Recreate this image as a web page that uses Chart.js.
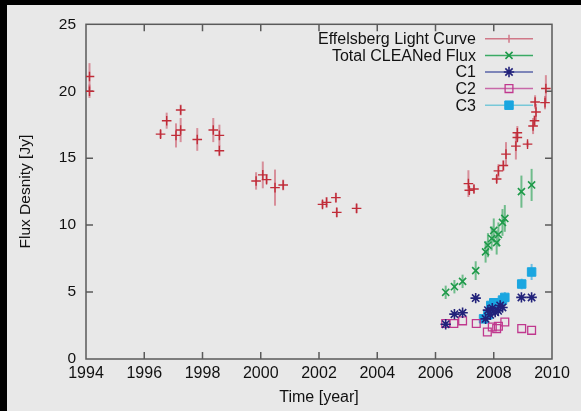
<!DOCTYPE html>
<html>
<head>
<meta charset="utf-8">
<script src="https://cdn.jsdelivr.net/npm/chart.js@4/dist/chart.umd.min.js"></script>
<style>
    html, body { margin: 0; padding: 0; background: #000; }
    #wrap { position: absolute; left: 7px; top: 5px; width: 574px; height: 406px; background: #e8e8e8; }
</style>
</head>
<body>
<div id="wrap"><canvas id="flux" width="574" height="406"></canvas></div>
<script>
// Effelsberg light curve
const effYears = [1994.12, 1994.12, 1996.56, 1996.77, 1997.09, 1997.25, 1997.25, 1997.82, 1998.37, 1998.58, 1998.58,
    1999.84, 2000.07, 2000.2, 2000.49, 2000.77, 2002.12, 2002.26, 2002.58, 2002.61, 2003.29,
    2007.13, 2007.16, 2007.32, 2008.1, 2008.16, 2008.33, 2008.42, 2008.76, 2008.81, 2008.81,
    2009.16, 2009.35, 2009.4, 2009.45, 2009.42, 2009.76, 2009.79];
const effFlux = [21.1, 20.0, 16.8, 17.8, 16.7, 18.6, 17.1, 16.4, 17.1, 16.7, 15.55,
    13.3, 13.75, 13.4, 12.8, 13.0, 11.55, 11.7, 12.05, 10.95, 11.25,
    13.1, 12.6, 12.7, 13.45, 14.05, 14.45, 15.3, 15.9, 16.9, 16.55,
    16.05, 17.4, 17.8, 18.45, 19.2, 19.15, 20.2];
const effErr = [1.0, 0.5, 0.3, 0.6, 0.9, 0.4, 0.9, 0.85, 0.9, 0.8, 0.4,
    0.65, 1.0, 0.3, 1.35, 0.4, 0.3, 0.4, 0.35, 0.35, 0.35,
    1.0, 0.3, 0.3, 0.3, 0.5, 0.4, 0.9, 1.0, 0.5, 0.3,
    0.2, 0.6, 0.4, 0.6, 0.5, 0.5, 1.0];

// Total CLEANed flux
const totYears = [2006.35, 2006.65, 2006.93, 2007.38, 2007.72, 2007.8, 2007.93, 2008.0, 2008.1, 2008.16, 2008.3, 2008.38, 2008.95, 2009.3];
const totFlux = [4.98, 5.4, 5.8, 6.6, 8.0, 8.5, 9.0, 9.6, 8.7, 9.3, 10.2, 10.5, 12.5, 13.0];
const totErr = [0.5, 0.5, 0.5, 0.7, 0.8, 0.9, 0.9, 0.9, 0.9, 0.9, 1.0, 1.0, 1.2, 1.2];

// components
const c1Years = [2006.35, 2006.65, 2006.93, 2007.38, 2007.72, 2007.8, 2007.88, 2007.95, 2008.05, 2008.15, 2008.22, 2008.3, 2008.95, 2009.3];
const c1Flux = [2.6, 3.35, 3.45, 4.55, 3.0, 3.65, 3.3, 3.8, 3.5, 3.6, 4.0, 3.85, 4.6, 4.6];

const c2Years = [2006.35, 2006.63, 2006.93, 2007.4, 2007.78, 2007.95, 2008.1, 2008.16, 2008.38, 2008.96, 2009.3];
const c2Flux = [2.65, 2.65, 2.85, 2.65, 2.02, 2.39, 2.27, 2.44, 2.76, 2.27, 2.14];

const c3Years = [2007.65, 2007.8, 2007.9, 2008.0, 2008.3, 2008.38, 2008.96, 2009.3];
const c3Flux = [3.0, 3.3, 4.0, 4.2, 4.4, 4.6, 5.6, 6.5];
const c3Err = [0.3, 0.3, 0.3, 0.3, 0.4, 0.4, 0.4, 0.6];

const xTicks = [1994, 1996, 1998, 2000, 2002, 2004, 2006, 2008, 2010];
const yTicks = [0, 5, 10, 15, 20, 25];

const toPoints = (xs, ys) => xs.map((x, i) => ({ x: x, y: ys[i] }));

const fluxData = {
    datasets: [
        {
            label: 'Effelsberg Light Curve',
            data: toPoints(effYears, effFlux),
            errors: effErr,
            errorColor: 'rgba(200, 70, 90, 0.55)',
            lineColor: '#d07888',
            borderColor: '#c02c38',
            backgroundColor: '#c02c38',
            pointStyle: 'cross',
            pointRadius: 4.8,
            borderWidth: 1.4
        },
        {
            label: 'Total CLEANed Flux',
            data: toPoints(totYears, totFlux),
            errors: totErr,
            errorColor: 'rgba(60, 170, 100, 0.7)',
            lineColor: '#3aaa64',
            borderColor: '#1f9a4a',
            backgroundColor: '#1f9a4a',
            pointStyle: 'crossRot',
            pointRadius: 5,
            borderWidth: 1.6
        },
        {
            label: 'C1',
            data: toPoints(c1Years, c1Flux),
            lineColor: '#5a64a8',
            borderColor: '#22227a',
            backgroundColor: '#22227a',
            pointStyle: 'star',
            pointRadius: 5.2,
            borderWidth: 1.6
        },
        {
            label: 'C2',
            data: toPoints(c2Years, c2Flux),
            lineColor: '#c868a8',
            borderColor: '#c0388e',
            backgroundColor: 'rgba(0,0,0,0)',
            pointStyle: 'rect',
            pointRadius: 5.5,
            borderWidth: 1.3
        },
        {
            label: 'C3',
            data: toPoints(c3Years, c3Flux),
            errors: c3Err,
            errorColor: 'rgba(30, 160, 220, 0.6)',
            lineColor: '#78c8d8',
            borderColor: '#1aa6e0',
            backgroundColor: '#1aa6e0',
            pointStyle: 'rect',
            pointRadius: 6,
            borderWidth: 1
        }
    ]
};

// vertical error bars, drawn under the markers
const errorBars = {
    id: 'errorBars',
    beforeDatasetsDraw(chart) {
        const { ctx, scales: { y } } = chart;
        chart.data.datasets.forEach((ds, di) => {
            if (!ds.errors) return;
            const meta = chart.getDatasetMeta(di);
            ctx.save();
            ctx.strokeStyle = ds.errorColor;
            ctx.lineWidth = 2;
            meta.data.forEach((pt, i) => {
                const v = ds.data[i].y;
                ctx.beginPath();
                ctx.moveTo(pt.x, y.getPixelForValue(v - ds.errors[i]));
                ctx.lineTo(pt.x, y.getPixelForValue(v + ds.errors[i]));
                ctx.stroke();
            });
            ctx.restore();
        });
    }
};

// gnuplot style box with inward ticks on all four sides
const frameBox = {
    id: 'frameBox',
    beforeDatasetsDraw(chart) {
        const { ctx, chartArea: a, scales: { x, y } } = chart;
        const tl = 7;
        ctx.save();
        ctx.strokeStyle = '#5a5a5a';
        ctx.lineWidth = 1.5;
        ctx.strokeRect(a.left, a.top, a.right - a.left, a.bottom - a.top);
        ctx.beginPath();
        xTicks.slice(1, -1).forEach((t) => {
            const px = x.getPixelForValue(t);
            ctx.moveTo(px, a.bottom); ctx.lineTo(px, a.bottom - tl);
            ctx.moveTo(px, a.top); ctx.lineTo(px, a.top + tl);
        });
        yTicks.slice(1, -1).forEach((t) => {
            const py = y.getPixelForValue(t);
            ctx.moveTo(a.left, py); ctx.lineTo(a.left + tl, py);
            ctx.moveTo(a.right, py); ctx.lineTo(a.right - tl, py);
        });
        ctx.stroke();
        ctx.restore();
    }
};

// key inside the top right corner: text, then line sample with marker
const keyBox = {
    id: 'keyBox',
    afterDraw(chart) {
        const { ctx, chartArea: a } = chart;
        const textRight = a.right - 76;
        const lineLeft = a.right - 67;
        const lineRight = a.right - 19;
        const mid = (lineLeft + lineRight) / 2;
        ctx.save();
        ctx.font = '16px "Liberation Sans", Arial, sans-serif';
        ctx.textAlign = 'right';
        ctx.textBaseline = 'middle';
        chart.data.datasets.forEach((ds, i) => {
            const ry = a.top + 14.5 + i * 16.6;
            ctx.fillStyle = '#111';
            ctx.fillText(ds.label, textRight, ry + 1);
            ctx.strokeStyle = ds.lineColor;
            ctx.lineWidth = 1.5;
            ctx.beginPath();
            ctx.moveTo(lineLeft, ry); ctx.lineTo(lineRight, ry);
            ctx.stroke();
            ctx.strokeStyle = ds.borderColor;
            ctx.fillStyle = ds.backgroundColor;
            if (i === 0) {
                ctx.strokeStyle = ds.lineColor;
                ctx.beginPath();
                ctx.moveTo(mid, ry - 4); ctx.lineTo(mid, ry + 4);
                ctx.stroke();
            } else {
                ctx.lineWidth = ds.borderWidth;
                Chart.helpers.drawPoint(ctx, {
                    pointStyle: ds.pointStyle,
                    radius: ds.pointRadius,
                    rotation: 0,
                    borderWidth: ds.borderWidth
                }, mid, ry);
            }
        });
        ctx.restore();
    }
};

const fontFamily = '"Liberation Sans", Arial, sans-serif';

const options = {
    responsive: false,
    animation: false,
    layout: { padding: { top: 15.7, right: 29, left: 0, bottom: 0 } },
    plugins: {
        legend: { display: false },
        tooltip: { enabled: false }
    },
    scales: {
        x: {
            type: 'linear',
            min: 1994,
            max: 2010,
            grid: { display: false, drawTicks: false },
            border: { display: false },
            afterFit(scale) { scale.height = 52; },
            ticks: {
                stepSize: 2,
                padding: 5,
                color: '#111',
                font: { family: fontFamily, size: 16 },
                callback: (v) => String(v)
            },
            title: {
                display: true,
                text: 'Time [year]',
                color: '#111',
                font: { family: fontFamily, size: 16 },
                padding: { top: 0, bottom: 4 }
            }
        },
        y: {
            min: 0,
            max: 25,
            grid: { display: false, drawTicks: false },
            border: { display: false },
            afterFit(scale) { scale.width = 79; },
            ticks: {
                stepSize: 5,
                padding: 10,
                color: '#111',
                font: { family: fontFamily, size: 15.5 }
            },
            title: {
                display: true,
                text: 'Flux Desnity [Jy]',
                color: '#111',
                font: { family: fontFamily, size: 15.5 },
                padding: { top: 9, bottom: 0 }
            }
        }
    }
};

const fluxElement = document.getElementById('flux');

if (fluxElement) {
    new Chart(fluxElement, {
        type: 'scatter',
        data: fluxData,
        options: options,
        plugins: [errorBars, frameBox, keyBox]
    });
}
</script>
</body>
</html>
